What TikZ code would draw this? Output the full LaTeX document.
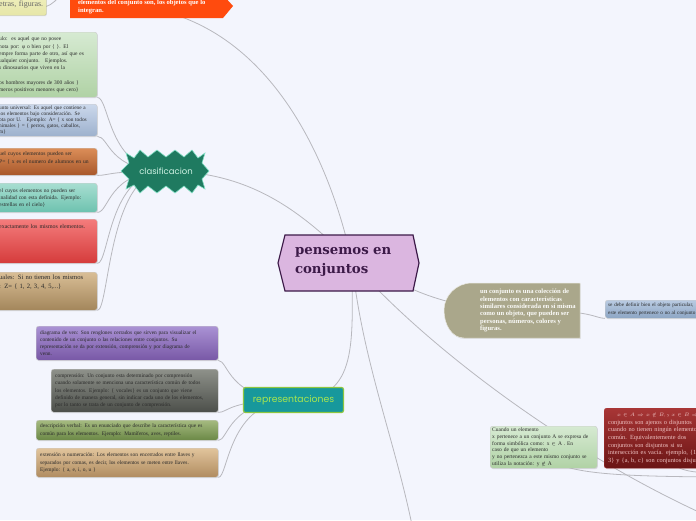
\documentclass[tikz,border=0pt]{standalone}
\usepackage{fontspec}
\setmainfont{Liberation Serif}
\newfontfamily\handfont{Poppins}
\newfontfamily\slabfont{DejaVu Serif}
\usetikzlibrary{backgrounds,shadows}
\pgfdeclarelayer{bgfill}
\pgfsetlayers{bgfill,background,main}
\definecolor{bgc}{HTML}{F3F5FD}
\definecolor{lineC}{HTML}{B8B8BE}
\definecolor{txtC}{HTML}{2A2A2A}
\definecolor{ga}{HTML}{D6EAD2}\definecolor{gb}{HTML}{B0D2A5}
\definecolor{ba}{HTML}{CBD8EC}\definecolor{bb}{HTML}{9DB1CD}
\definecolor{oa}{HTML}{DB8D58}\definecolor{ob}{HTML}{A8582B}
\definecolor{ta}{HTML}{A8DED1}\definecolor{tb}{HTML}{6DC2AF}
\definecolor{ra}{HTML}{F47C7C}\definecolor{rb}{HTML}{D53B3B}
\definecolor{na}{HTML}{D9BE96}\definecolor{nb}{HTML}{A3865B}
\definecolor{pa}{HTML}{AA92D4}\definecolor{pb}{HTML}{7858A6}
\definecolor{ka}{HTML}{8E918A}\definecolor{kb}{HTML}{4C4F4A}
\definecolor{va}{HTML}{A5BA80}\definecolor{vb}{HTML}{6B8846}
\definecolor{wa}{HTML}{E1C49C}\definecolor{wb}{HTML}{B08C60}
\definecolor{oliveC}{HTML}{AAA78B}
\definecolor{qa}{HTML}{B9CBE2}\definecolor{qb}{HTML}{8CA5C4}
\definecolor{da}{HTML}{A83636}\definecolor{db}{HTML}{6B1515}
\definecolor{disT}{HTML}{F0C4C4}
\definecolor{banC}{HTML}{FF4B0E}
\definecolor{ya}{HTML}{F0F0BE}\definecolor{yb}{HTML}{E6E6A8}\definecolor{yB}{HTML}{D2D28A}
\definecolor{cF}{HTML}{DBB6E0}\definecolor{cB}{HTML}{3C1A48}
\definecolor{clF}{HTML}{1F7A60}\definecolor{clB}{HTML}{80DEC3}\definecolor{clT}{HTML}{CFF2E4}
\definecolor{repF}{HTML}{17989C}\definecolor{repB}{HTML}{8DC63F}\definecolor{repT}{HTML}{A8E64F}
\begin{document}
\begin{tikzpicture}[x=1pt,y=-1pt,
  conn/.style={draw=lineC, line width=0.8pt},
  card/.style={anchor=north west, rounded corners=2.5pt, align=left, draw=white!80!black, line width=0.4pt, text=txtC,
    drop shadow={shadow xshift=0.7pt, shadow yshift=-0.9pt, opacity=0.22}},
  lcard/.style={card, minimum width=102pt, inner xsep=4pt, text width=94pt, font=\fontsize{5.5}{7.2}\selectfont},
  rcard/.style={card, minimum width=182pt, inner xsep=4pt, text width=174pt, font=\fontsize{5.4}{7.1}\selectfont},
]
\useasboundingbox (0,0) rectangle (696,520);
\begin{pgfonlayer}{bgfill}
\fill[bgc] (0,0) rectangle (696,520);
\end{pgfonlayer}

% ---------- central node ----------
\path[fill=cF, draw=cB, line width=1.2pt] (278,263) -- (285,235) -- (413,235) -- (419,263) -- (413,291) -- (285,291) -- cycle;
\node[font=\slabfont\bfseries\fontsize{13.3}{19}\selectfont, text=cB, align=left, text width=114pt, inner sep=0pt] (c) at (352,262) {pensemos en\\conjuntos};

% ---------- top ----------
\node[card, top color=ya, bottom color=yb, draw=yB, rounded corners=1.5pt, minimum width=52pt, minimum height=21pt, inner xsep=5pt, text width=42pt, font=\fontsize{8}{9}\selectfont, text=black!60] (yel) at (-6,-6) {\raisebox{-2.5pt}{etras, figuras.}};
\path[fill=banC] (70,-5) -- (223,-5) -- (233,6) -- (223,18) -- (70,18) -- cycle;
\node[anchor=west, align=left, inner sep=0pt, text=white, font=\bfseries\fontsize{6.6}{8}\selectfont] (ban) at (78,7) {elementos del conjunto son, los objetos que lo\\integran.};

% ---------- clasificacion ----------
\path[fill=clF, draw=clB, line width=0.6pt] (126,153) -- (134,158) -- (140,150) -- (148,157) -- (157,150) -- (166,157) -- (175,150) -- (184,157) -- (192,150) -- (198,158) -- (205,153) -- (202,163) -- (209,171) -- (202,179) -- (205,189) -- (198,185) -- (192,193) -- (184,186) -- (175,193) -- (166,186) -- (157,193) -- (148,186) -- (140,193) -- (134,185) -- (126,189) -- (129,179) -- (121,171) -- (129,163) -- cycle;
\node[font=\handfont\fontsize{8.5}{10}\selectfont, text=clT, inner sep=0pt] (clas) at (166,171) {clasificacion};

\node[lcard, top color=ga, bottom color=gb, minimum height=65pt] (L1) at (-5,32) {ulo:\ \ es aquel que no posee\\
nota por: φ o bien por \{ \}. El\\
empre forma parte de otro, así que es\\
ualquier conjunto.\quad Ejemplos.\\
s dinosaurios que viven en la\\
\mbox{}\\
os hombres mayores de 300 años \}\\
meros positivos menores que cero\}};
\node[lcard, top color=ba, bottom color=bb, minimum height=32pt, inner ysep=1pt, font=\fontsize{5.3}{6.1}\selectfont] (L2) at (-5,104) {unto universal: Es aquel que contiene a\\
los elementos bajo consideración. Se\\
ota por U.\quad Ejemplo: A= \{ x son todos\\
nimales \} = \{ perros, gatos, caballos,\\
m\}};
\node[lcard, top color=oa, bottom color=ob, minimum height=27pt, inner ysep=1pt, font=\fontsize{5.6}{8}\selectfont] (L3) at (-5,148) {uel cuyos elementos pueden ser\\
P= \{ x es el numero de alumnos en un\\ \mbox{}};
\node[lcard, top color=ta, bottom color=tb, minimum height=29pt, inner ysep=1pt] (L4) at (-5,183) {el cuyos elementos no pueden ser\\
inalidad con esta definida. Ejemplo:\\
estrellas en el cielo\}};
\node[lcard, top color=ra, bottom color=rb, minimum height=44pt, inner ysep=1pt, font=\fontsize{5.9}{7.5}\selectfont] (L5) at (-5,219) {exactamente los mismos elementos.\\ \mbox{}\\ \mbox{}\\ \mbox{}\\ \mbox{}};
\node[lcard, top color=na, bottom color=nb, minimum height=38pt, inner ysep=1pt, font=\fontsize{6.6}{9}\selectfont] (L6) at (-5,272) {uales: Si no tienen los mismos\\
: Z= \{ 1, 2, 3, 4, 5,...\}\\ \mbox{}\\ \mbox{}};

% ---------- representaciones ----------
\node[rounded corners=2pt, fill=repF, draw=repB, line width=1.2pt, minimum width=100pt, minimum height=25pt, font=\handfont\fontsize{9.3}{10}\selectfont, text=repT, inner sep=0pt] (rep) at (293.5,400) {representaciones};

\node[rcard, top color=pa, bottom color=pb, minimum height=34pt, inner ysep=1pt] (R1) at (36,326) {diagrama de ven: Son renglones cerrados que sirven para visualizar el\\
contenido de un conjunto o las relaciones entre conjuntos. Su\\
representación se da por extensión, comprensión y por diagrama de\\
venn.};
\node[rcard, top color=ka, bottom color=kb, minimum width=167pt, text width=159pt, minimum height=43pt, inner ysep=1pt] (R2) at (51,369) {comprensión: Un conjunto esta determinado por comprensión\\
cuando solamente se menciona una característica común de todos\\
los elementos. Ejemplo: \{ vocales\} es un conjunto que viene\\
definido de manera general, sin indicar cada uno de los elementos,\\
por lo tanto se trata de un conjunto de comprensión.};
\node[rcard, top color=va, bottom color=vb, minimum height=20pt, inner ysep=1pt] (R3) at (36,420) {descripción verbal: Es un enunciado que describe la característica que es\\
común para los elementos. Ejemplo: Mamíferos, aves, reptiles.};
\node[rcard, top color=wa, bottom color=wb, minimum height=29pt, inner ysep=1pt] (R4) at (36,448) {extensión o numeración: Los elementos son encerrados entre llaves y\\
separados por comas, es decir, los elementos se meten entre llaves.\\
Ejemplo: \{ a, e, i, o, u \}};

% ---------- right side ----------
\path[fill=oliveC, draw=white!75!oliveC, line width=0.5pt, drop shadow={shadow xshift=0.7pt, shadow yshift=-0.9pt, opacity=0.22}] (472,283) -- (580,283) -- (580,338) -- (464,338) .. controls (452,338) and (444,325) .. (444,310) .. controls (444,296) and (456,283) .. (472,283) -- cycle;
\node[anchor=north west, align=left, inner sep=0pt, text=white!95!oliveC, font=\bfseries\fontsize{6.6}{7.4}\selectfont] (otxt) at (480,289) {un conjunto es una colección de\\
elementos con características\\
similares considerada en sí misma\\
como un objeto, que pueden ser\\
personas, números, colores y\\
figuras.};
\node[card, top color=qa, bottom color=qb, minimum width=100pt, minimum height=18pt, inner xsep=3pt, inner ysep=1pt, text width=130pt, font=\fontsize{5.2}{7.3}\selectfont] (bl) at (605,300) {se debe definir bien el objeto particular,\\
este elemento pertenece o no al conjunto};

\node[card, top color=ga, bottom color=gb, minimum width=107pt, minimum height=42pt, inner xsep=2pt, inner ysep=1pt, text width=103pt, font=\fontsize{5.5}{6.9}\selectfont] (cuan) at (490,426) {Cuando un elemento\\
x pertenece a un conjunto A se expresa de\\
forma simbólica como: x $\in$ A . En\\
caso de que un elemento\\
y no pertenezca a este mismo conjunto se\\
utiliza la notación: y $\notin$ A};
\node[card, top color=da, bottom color=db, draw=da, minimum width=130pt, minimum height=60pt, inner xsep=4pt, inner ysep=1pt, text width=122pt, text=disT, font=\fontsize{6.3}{7.7}\selectfont] (dis) at (604,408) {\hspace*{9pt}{\fontsize{4}{5}\selectfont $x\in A\Rightarrow x\notin B$,\ y\ $x\in B\Rightarrow x\notin A$}\\
conjuntos son ajenos o disjuntos\\
cuando no tienen ningún elemento\\
común. Equivalentemente dos\\
conjuntos son disjuntos si su\\
intersección es vacía. ejemplo, \{1, 2,\\
3\} y \{a, b, c\} son conjuntos disjuntos};

% ---------- free ends ----------
\coordinate (yu) at (62,-8);
\coordinate (dn) at (413,530);
\coordinate (dr) at (712,518);
\coordinate (gr) at (712,477);
\coordinate (rr) at (712,473);

% ---------- connectors ----------
\begin{pgfonlayer}{background}
\draw[conn] (c.center) .. controls (330,160) and (270,25) .. (ban.center);
\draw[conn] (c.center) .. controls (300,210) and (250,172) .. (clas.center);
\draw[conn] (c.center) .. controls (352,340) and (360,400) .. (rep.center);
\draw[conn] (c.center) .. controls (362,360) and (395,440) .. (dn);
\draw[conn] (c.center) .. controls (400,278) and (425,310) .. (otxt.center);
\draw[conn] (c.center) .. controls (420,340) and (560,450) .. (dr);
\draw[conn] (otxt.center) .. controls (592,310) and (594,318) .. (bl.south west);
\draw[conn] (cuan.center) .. controls (545,474) and (610,476) .. (gr);
\draw[conn] (dis.center) .. controls (662,470) and (685,472) .. (rr);
\draw[conn] (yel.center) .. controls (42,11) and (52,8) .. (yu);
\foreach \n in {L1,L2,L3,L4,L5,L6}
  \draw[conn] (clas.center) .. controls (108,171) and ([xshift=12pt]\n.south east) .. (\n.south east);
\foreach \n in {R1,R2,R3,R4}
  \draw[conn] (rep.center) .. controls (228,400) and ([xshift=10pt]\n.south east) .. (\n.south east);
\end{pgfonlayer}
\end{tikzpicture}
\end{document}
